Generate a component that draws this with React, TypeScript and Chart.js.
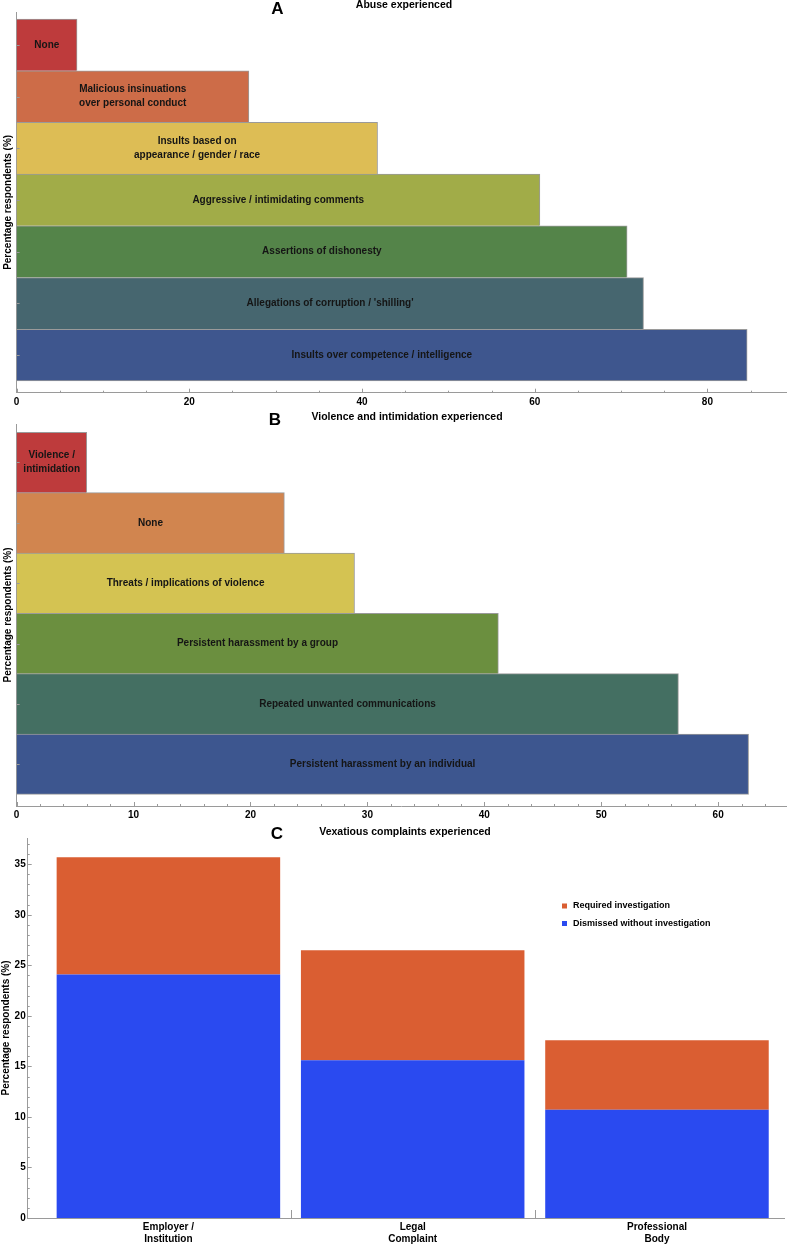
import React, { useEffect, useRef } from "react";
import { Chart, registerables } from "chart.js";

Chart.register(...registerables);

const FONT = "'Liberation Sans', Arial, Helvetica, sans-serif";

// ---------- Panel A: Abuse experienced ----------
const abuseCategories: string[][] = [
  ["None"],
  ["Malicious insinuations", "over personal conduct"],
  ["Insults based on", "appearance / gender / race"],
  ["Aggressive / intimidating comments"],
  ["Assertions of dishonesty"],
  ["Allegations of corruption / 'shilling'"],
  ["Insults over competence / intelligence"],
];
const abuseValues = [7.0, 26.9, 41.8, 60.6, 70.7, 72.6, 84.6];
const abuseColors = ["#BE3B3C", "#CD6C48", "#DDBD55", "#A1AC48", "#548449", "#46666F", "#3E568E"];
const abuseTicks = [0, 20, 40, 60, 80];

// ---------- Panel B: Violence and intimidation experienced ----------
const violenceCategories: string[][] = [
  ["Violence /", "intimidation"],
  ["None"],
  ["Threats / implications of violence"],
  ["Persistent harassment by a group"],
  ["Repeated unwanted communications"],
  ["Persistent harassment by an individual"],
];
const violenceValues = [6.0, 22.9, 28.9, 41.2, 56.6, 62.6];
const violenceColors = ["#BE3B3C", "#D1854F", "#D4C352", "#6B8F3F", "#446F62", "#3D568F"];
const violenceTicks = [0, 10, 20, 30, 40, 50, 60];

// ---------- Panel C: Vexatious complaints experienced ----------
const complaintCategories: string[][] = [
  ["Employer /", "Institution"],
  ["Legal", "Complaint"],
  ["Professional", "Body"],
];
const dismissedValues = [24.1, 15.6, 10.7];
const requiredValues = [11.6, 10.9, 6.9];
const complaintTicks = [0, 5, 10, 15, 20, 25, 30, 35];
const seriesNames = ["Dismissed without investigation", "Required investigation"];
const seriesColors = ["#2A4AF0", "#DA5E32"];

const AXIS_COLOR = "#9a9a9a";

const panelTextPlugin = {
  id: "panelText",
  afterDraw(chart: any, _a: any, opts: any) {
    const ctx = chart.ctx;
    ctx.save();
    ctx.fillStyle = "#000";
    ctx.textAlign = "center";
    ctx.textBaseline = "middle";
    ctx.font = `bold 17px ${FONT}`;
    ctx.fillText(opts.letter, opts.letterX, opts.letterY);
    ctx.font = `bold 10.5px ${FONT}`;
    ctx.fillText(opts.title, opts.titleX, opts.titleY);
    ctx.restore();
  },
};

const barLabelPlugin = {
  id: "barLabels",
  afterDatasetsDraw(chart: any, _a: any, opts: any) {
    if (!opts || !opts.labels) return;
    const meta = chart.getDatasetMeta(0);
    const ctx = chart.ctx;
    ctx.save();
    ctx.font = `bold 10px ${FONT}`;
    ctx.fillStyle = "#151515";
    ctx.textAlign = "center";
    ctx.textBaseline = "middle";
    meta.data.forEach((el: any, i: number) => {
      const { x, y, base } = el.getProps(["x", "y", "base"], true);
      const lines: string[] = opts.labels[i];
      const cx = (x + base) / 2;
      const lh = 14;
      lines.forEach((ln, k) => ctx.fillText(ln, cx, y + (k - (lines.length - 1) / 2) * lh));
    });
    ctx.restore();
  },
};

const axisTicksPlugin = {
  id: "axisTicks",
  afterDraw(chart: any, _a: any, opts: any) {
    const ctx = chart.ctx;
    const { left, bottom } = chart.chartArea;
    ctx.save();
    ctx.strokeStyle = AXIS_COLOR;
    ctx.lineWidth = 1;
    (opts.x || []).forEach(([v, len]: number[]) => {
      const px = Math.round(chart.scales.x.getPixelForValue(v)) + 0.5;
      ctx.beginPath();
      ctx.moveTo(px, bottom);
      ctx.lineTo(px, bottom - len);
      ctx.stroke();
    });
    (opts.y || []).forEach(([v, len]: number[]) => {
      const py = Math.round(chart.scales.y.getPixelForValue(v)) + 0.5;
      ctx.beginPath();
      ctx.moveTo(left, py);
      ctx.lineTo(left + len, py);
      ctx.stroke();
    });
    ctx.restore();
  },
};

const legendPlugin = {
  id: "customLegend",
  afterDraw(chart: any, _a: any, opts: any) {
    if (!opts || !opts.show) return;
    const ctx = chart.ctx;
    ctx.save();
    ctx.font = `bold 9px ${FONT}`;
    ctx.textBaseline = "middle";
    ctx.textAlign = "left";
    const ds = chart.data.datasets.slice().reverse();
    ds.forEach((d: any, i: number) => {
      const y = opts.y + i * opts.gap;
      ctx.fillStyle = d.backgroundColor;
      ctx.fillRect(opts.x, y - 2.5, 5, 5);
      ctx.fillStyle = "#000";
      ctx.fillText(d.label, opts.x + 11, y);
    });
    ctx.restore();
  },
};

const tickFont = { family: FONT, size: 10, weight: "bold" as const };

function hBarConfig(
  categories: string[][],
  values: number[],
  colors: string[],
  ticks: number[],
  xMax: number,
  yMin: number,
  yMax: number,
  minorStep: number,
  padTop: number,
  xHeight: number,
  labelPad: number,
  text: any
) {
  const n = values.length;
  const idx = values.map((_, i) => n - 1 - i);
  const minorTicks: number[][] = [];
  for (let v = 0; v <= xMax; v += minorStep) {
    const major = ticks.indexOf(Math.round(v * 1000) / 1000) >= 0;
    minorTicks.push([v, major ? 4 : 2]);
  }
  return {
    type: "bar" as const,
    data: {
      datasets: [
        {
          data: values.map((v, i) => ({ x: v, y: idx[i] })),
          backgroundColor: colors,
          borderColor: AXIS_COLOR,
          borderWidth: (c: any) => ({ top: 1, right: 1, bottom: c.dataIndex === n - 1 ? 1 : 0, left: 0 }),
          borderSkipped: false,
          categoryPercentage: 1,
          barPercentage: 1,
        },
      ],
    },
    options: {
      indexAxis: "y" as const,
      animation: false as const,
      responsive: false,
      devicePixelRatio: 1,
      layout: { padding: { top: padTop, right: 1, left: 0, bottom: 0 } },
      scales: {
        x: {
          type: "linear" as const,
          min: 0,
          max: xMax,
          offset: false,
          afterBuildTicks: (s: any) => {
            s.ticks = ticks.map((v) => ({ value: v }));
          },
          afterFit: (s: any) => {
            s.height = xHeight;
          },
          grid: { display: false, drawTicks: false, offset: false },
          border: { display: true, color: AXIS_COLOR, width: 1 },
          ticks: { font: tickFont, color: "#000", padding: labelPad, maxRotation: 0, autoSkip: false },
        },
        y: {
          type: "linear" as const,
          min: yMin,
          max: yMax,
          offset: false,
          afterBuildTicks: (s: any) => {
            s.ticks = idx.map((v) => ({ value: v }));
          },
          afterFit: (s: any) => {
            s.width = 16.6;
          },
          grid: { display: false, drawTicks: false, offset: false },
          border: { display: true, color: AXIS_COLOR, width: 1 },
          ticks: { display: false },
          title: {
            display: true,
            text: "Percentage respondents (%)",
            font: tickFont,
            color: "#000",
            padding: { top: 2, bottom: 0 },
          },
        },
      },
      plugins: {
        legend: { display: false },
        tooltip: { enabled: false },
        barLabels: { labels: categories },
        axisTicks: { x: minorTicks, y: idx.map((v) => [v, 3]) },
        panelText: text,
      },
    },
    plugins: [barLabelPlugin, axisTicksPlugin, panelTextPlugin],
  };
}

function cConfig() {
  const yMinor: number[][] = [];
  for (let v = 0; v <= 37; v += 1) yMinor.push([v, v % 5 === 0 ? 4 : 2]);
  return {
    type: "bar" as const,
    data: {
      datasets: [
        {
          label: seriesNames[0],
          data: dismissedValues.map((v, i) => ({ x: i, y: v })),
          backgroundColor: seriesColors[0],
          borderWidth: 0,
          categoryPercentage: 1,
          barPercentage: 0.915,
        },
        {
          label: seriesNames[1],
          data: requiredValues.map((v, i) => ({ x: i, y: v })),
          backgroundColor: seriesColors[1],
          borderWidth: 0,
          categoryPercentage: 1,
          barPercentage: 0.915,
        },
      ],
    },
    options: {
      animation: false as const,
      responsive: false,
      devicePixelRatio: 1,
      layout: { padding: { top: 16, right: 3, left: 0, bottom: 0 } },
      scales: {
        x: {
          type: "linear" as const,
          min: -0.576,
          max: 2.52,
          offset: false,
          stacked: true,
          afterBuildTicks: (s: any) => {
            s.ticks = complaintCategories.map((_, i) => ({ value: i }));
          },
          afterFit: (s: any) => {
            s.height = 28;
          },
          grid: { display: false, drawTicks: false, offset: false },
          border: { display: true, color: AXIS_COLOR, width: 1 },
          ticks: {
            font: { ...tickFont, lineHeight: 1.2 },
            color: "#000",
            padding: 3,
            maxRotation: 0,
            autoSkip: false,
            callback: (v: any) => complaintCategories[Math.round(v)] || "",
          },
        },
        y: {
          type: "linear" as const,
          min: 0,
          max: 37.6,
          stacked: true,
          afterBuildTicks: (s: any) => {
            s.ticks = complaintTicks.map((v) => ({ value: v }));
          },
          afterFit: (s: any) => {
            s.width = 27.7;
          },
          grid: { display: false, drawTicks: false },
          border: { display: true, color: AXIS_COLOR, width: 1 },
          ticks: { font: tickFont, color: "#000", padding: 2 },
          title: {
            display: true,
            text: "Percentage respondents (%)",
            font: tickFont,
            color: "#000",
            padding: { top: 0, bottom: 0 },
          },
        },
      },
      plugins: {
        legend: { display: false },
        tooltip: { enabled: false },
        axisTicks: { x: [[0.5, 8], [1.5, 8]], y: yMinor },
        customLegend: { show: true, x: 562, y: 84, gap: 17.5 },
        panelText: {
          letter: "C",
          letterX: 277,
          letterY: 12,
          title: "Vexatious complaints experienced",
          titleX: 405,
          titleY: 10,
        },
      },
    },
    plugins: [axisTicksPlugin, legendPlugin, panelTextPlugin],
  };
}

function ChartCanvas({ top, height, make }: { top: number; height: number; make: () => any }) {
  const ref = useRef<HTMLCanvasElement | null>(null);
  useEffect(() => {
    if (!ref.current) return;
    const chart = new Chart(ref.current, make());
    return () => chart.destroy();
  }, []);
  return (
    <canvas
      ref={ref}
      width={787}
      height={height}
      style={{ position: "absolute", left: 0, top, width: 787, height }}
    />
  );
}

export default function App() {
  return (
    <div style={{ position: "absolute", left: 0, top: 0, width: 787, height: 1246, background: "#fff" }}>
      <ChartCanvas
        top={0}
        height={412}
        make={() =>
          hBarConfig(abuseCategories, abuseValues, abuseColors, abuseTicks, 89.1, -0.727, 6.636, 5, 12, 19.3, 4, {
            letter: "A",
            letterX: 277.5,
            letterY: 9,
            title: "Abuse experienced",
            titleX: 404,
            titleY: 5,
          })
        }
      />
      <ChartCanvas
        top={408}
        height={414}
        make={() =>
          hBarConfig(violenceCategories, violenceValues, violenceColors, violenceTicks, 65.8, -0.693, 5.638, 2, 16, 16, 3, {
            letter: "B",
            letterX: 275,
            letterY: 12,
            title: "Violence and intimidation experienced",
            titleX: 407,
            titleY: 9,
          })
        }
      />
      <ChartCanvas top={822} height={424} make={cConfig} />
    </div>
  );
}
